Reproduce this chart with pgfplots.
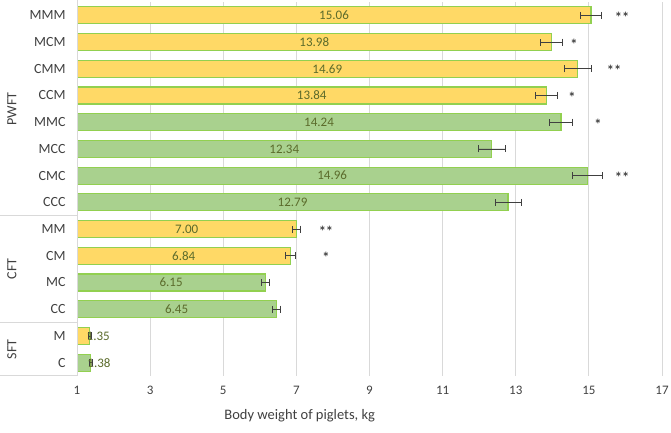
\documentclass[border=0pt]{standalone}
\usepackage{fontspec}
\setmainfont{Carlito}
\usepackage{pgfplots}
\usepackage{pgfplotstable}
\pgfplotsset{compat=1.18}
\definecolor{ybarc}{HTML}{FFD966}
\definecolor{gbarc}{HTML}{A9D18E}
\definecolor{bord}{HTML}{92D050}
\definecolor{labc}{HTML}{5B6B2B}
\definecolor{gridc}{HTML}{D9D9D9}
\definecolor{errc}{HTML}{404040}
\definecolor{txtc}{HTML}{404040}
\newcommand\f{\fontsize{13bp}{15bp}\selectfont}
\newcommand\fc{\fontsize{14bp}{16bp}\selectfont}
\newcommand\fl{\fontsize{14.5bp}{16bp}\selectfont}

% y position, value, error, label x, label text
\pgfplotstableread{
y v e lx txt
1 1.35 0.04 1.58 1.35
4 6.84 0.14 3.92 6.84
5 7.00 0.12 4.00 7.00
10 13.84 0.29 7.42 13.84
11 14.69 0.37 7.845 14.69
12 13.98 0.30 7.49 13.98
13 15.06 0.29 8.03 15.06
}\yel
\pgfplotstableread{
y v e lx txt
0 1.38 0.04 1.60 1.38
2 6.45 0.11 3.725 6.45
3 6.15 0.12 3.575 6.15
6 12.79 0.36 6.895 12.79
7 14.96 0.42 7.98 14.96
8 12.34 0.37 6.67 12.34
9 14.24 0.31 7.62 14.24
}\grn
\pgfplotstableread{
y x s
13 15.91 **
12 14.59 *
11 15.69 **
10 14.54 *
9 15.25 *
7 15.91 **
5 7.81 **
4 7.81 *
}\stars

\begin{document}
\begin{tikzpicture}
\path[use as bounding box] (0,0) rectangle (671bp,433bp);
\begin{axis}[
  at={(77bp,57bp)}, anchor=south west,
  scale only axis, width=585bp, height=374bp,
  xmin=1, xmax=17, ymin=-0.5, ymax=13.5,
  xtick={1,3,...,17},
  ytick={0,...,13},
  yticklabels={C,M,CC,MC,CM,MM,CCC,CMC,MCC,MMC,CCM,CMM,MCM,MMM},
  xmajorgrids, grid style={gridc, line width=1bp},
  axis x line*=bottom, axis y line*=left,
  x axis line style={draw=none},
  y axis line style={gridc, line width=1bp},
  major tick length=0pt,
  /pgf/number format/assume math mode=true,
  tick label style={font=\f, text=txtc},
  xticklabel style={yshift=-7bp},
  yticklabel style={xshift=-8bp, font=\fc},
  xlabel={Body weight of piglets, kg},
  xlabel style={font=\fl, text=txtc, at={(axis description cs:0.246,0)}, anchor=west, yshift=-40bp},
  clip mode=individual,
]
\addplot[xbar, bar width=17bp, bar shift=0pt, fill=ybarc, draw=bord, line width=1.2bp,
  error bars/.cd, x dir=both, x explicit,
  error bar style={errc, line width=0.8bp},
  error mark options={rotate=90, errc, line width=0.8bp, mark size=3.5bp}]
  table[x=v, y=y, x error=e] {\yel};
\addplot[xbar, bar width=17bp, bar shift=0pt, fill=gbarc, draw=bord, line width=1.2bp,
  error bars/.cd, x dir=both, x explicit,
  error bar style={errc, line width=0.8bp},
  error mark options={rotate=90, errc, line width=0.8bp, mark size=3.5bp}]
  table[x=v, y=y, x error=e] {\grn};
\addplot[draw=none, mark=none, nodes near coords, point meta=explicit symbolic,
  every node near coord/.style={anchor=center, font=\f, text=labc, inner sep=0pt}]
  table[x=lx, y=y, meta=txt] {\yel};
\addplot[draw=none, mark=none, nodes near coords, point meta=explicit symbolic,
  every node near coord/.style={anchor=center, font=\f, text=labc, inner sep=0pt}]
  table[x=lx, y=y, meta=txt] {\grn};
\addplot[draw=none, mark=none, nodes near coords, point meta=explicit symbolic,
  every node near coord/.style={anchor=center, font=\fl\bfseries, text=txtc, inner sep=0pt, yshift=-2bp}]
  table[x=x, y=y, meta=s] {\stars};
\end{axis}
% group separators in the label area
\draw[gridc, line width=1bp] (0,217.3bp) -- (77bp,217.3bp);
\draw[gridc, line width=1bp] (0,110.4bp) -- (77bp,110.4bp);
\draw[gridc, line width=1bp] (0,57bp) -- (77bp,57bp);
\draw[gridc, line width=1bp] (77bp,57bp) -- (77bp,433bp);
\node[rotate=90, font=\fc, text=txtc] at (12bp,324bp) {PWFT};
\node[rotate=90, font=\fc, text=txtc] at (12bp,164bp) {CFT};
\node[rotate=90, font=\fc, text=txtc] at (12bp,83.5bp) {SFT};
\end{tikzpicture}
\end{document}
